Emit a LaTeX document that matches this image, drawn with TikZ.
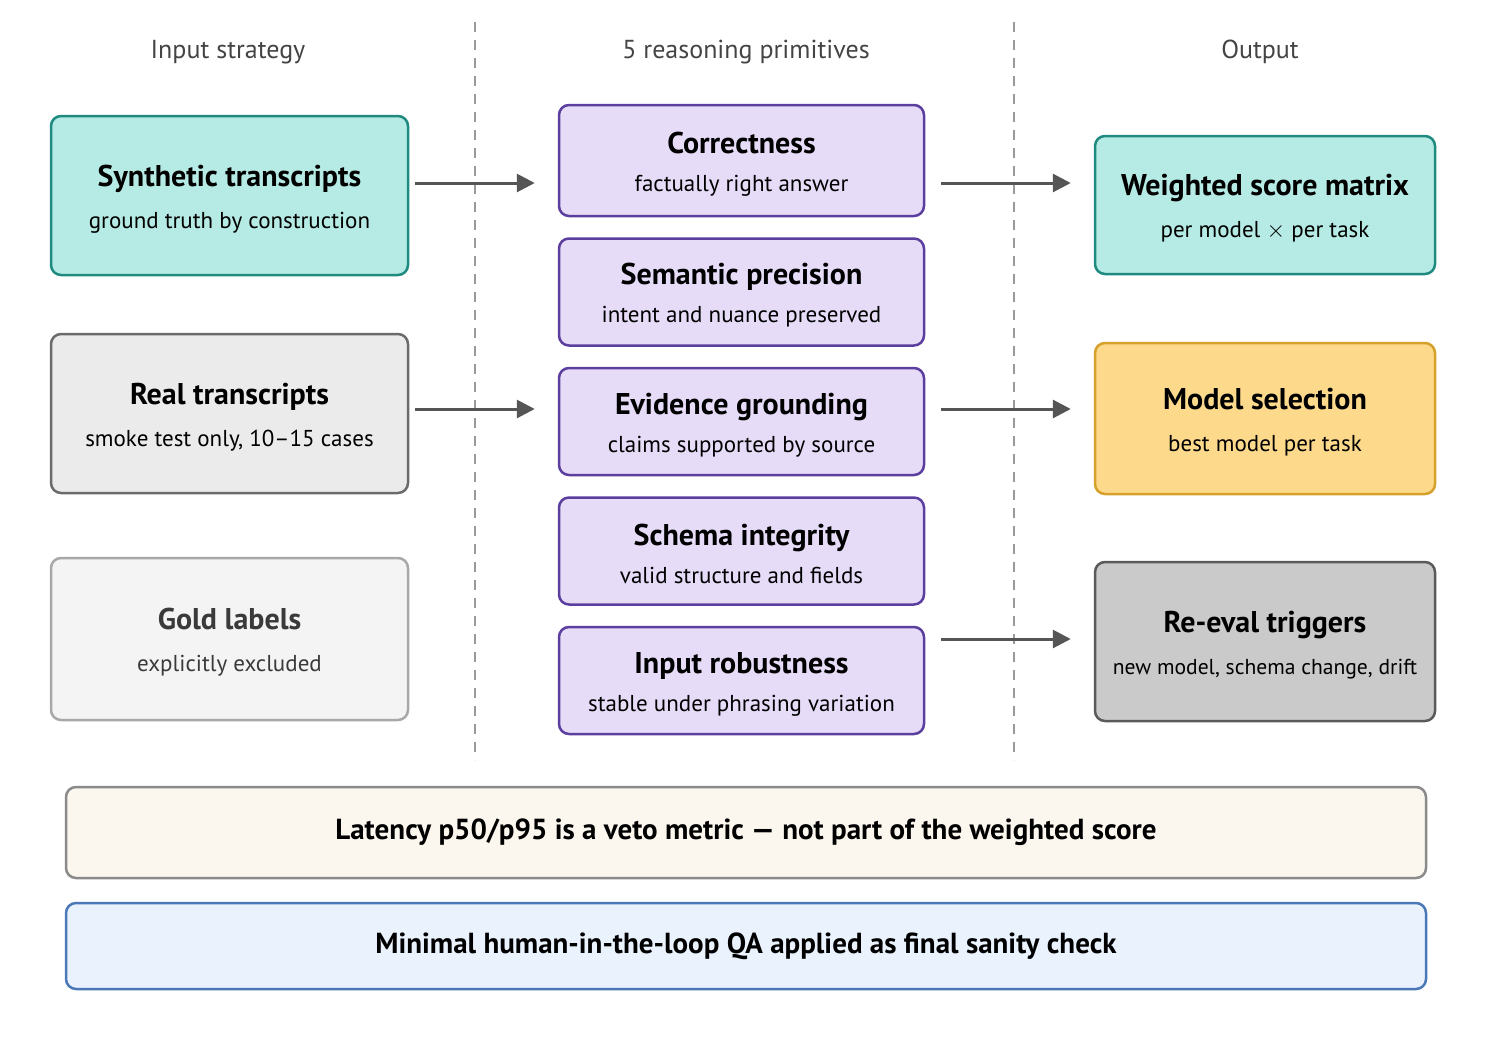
\documentclass[tikz,border=0pt]{standalone}
\usepackage{fontspec}
\setmainfont{PT Sans}
\usetikzlibrary{arrows.meta,positioning}
\tikzset{every picture/.style={line width=0.75pt}}

\definecolor{tealfill}{HTML}{B5EBE4}
\definecolor{tealline}{HTML}{1E8A80}
\definecolor{primfill}{HTML}{E6DCF8}
\definecolor{primline}{HTML}{5B3E9E}
\definecolor{realfill}{HTML}{EBEBEB}
\definecolor{realline}{HTML}{6B6B6B}
\definecolor{goldfill}{HTML}{F4F4F4}
\definecolor{goldline}{HTML}{A8A8A8}
\definecolor{goldtext}{HTML}{3A3A3A}
\definecolor{pickfill}{HTML}{FDD98C}
\definecolor{pickline}{HTML}{D6A12A}
\definecolor{evalfill}{HTML}{CACACA}
\definecolor{evalline}{HTML}{5A5A5A}
\definecolor{vetofill}{HTML}{FBF6EE}
\definecolor{vetoline}{HTML}{8A8A8A}
\definecolor{qafill}{HTML}{E9F2FD}
\definecolor{qaline}{HTML}{4B79B8}
\definecolor{headgray}{HTML}{444444}
\definecolor{divgray}{HTML}{9A9A9A}
\definecolor{arrowgray}{HTML}{555555}

\newcommand{\boxlabel}[3][7pt]{{\fontsize{15}{18}\selectfont\bfseries\rule{0pt}{14pt}#2}\\[#1]#3}

\tikzset{
  card/.style={rounded corners=5pt, line width=1.25pt, align=center, inner sep=2pt,
    font=\fontsize{11.5}{14}\selectfont},
  inbox/.style={card, minimum width=178.5pt, minimum height=79.5pt},
  primbox/.style={card, draw=primline, fill=primfill, minimum width=182.5pt, minimum height=53.5pt},
  outbox/.style={card, minimum width=170pt},
  barbox/.style={card, minimum width=680pt, font=\fontsize{14.5}{17}\selectfont\bfseries},
  header/.style={text=headgray, font=\fontsize{13}{15}\selectfont},
  divider/.style={dash pattern=on 5pt off 4pt, line width=0.9pt, draw=divgray},
  flow/.style={-{Triangle[length=9pt,width=9pt]}, line width=1.5pt, draw=arrowgray, fill=arrowgray},
}

\begin{document}
\begin{tikzpicture}[x=0.5pt, y=-0.5pt]
  \useasboundingbox (0,0) rectangle (1491,1055);

  % column headers and dividers
  \node[header] (hin)  at (228,52)  {Input strategy};
  \node[header] (hmid) at (746,52)  {5 reasoning primitives};
  \node[header] (hout) at (1260,52) {Output};
  \draw[divider] (475,22) -- (475,760);
  \draw[divider] (1014,22) -- (1014,760);

  % inputs
  \node[inbox, draw=tealline, fill=tealfill] (syn) at (229.5,195.5)
    {\boxlabel{Synthetic transcripts}{ground truth by construction}};
  \node[inbox, draw=realline, fill=realfill] (real) at (229.5,413.5)
    {\boxlabel{Real transcripts}{smoke test only, 10--15 cases}};
  \node[inbox, draw=goldline, fill=goldfill, text=goldtext, minimum height=81pt] (gold) at (229.5,639)
    {\boxlabel{Gold labels}{explicitly excluded}};

  % primitives
  \node[primbox, minimum height=55.5pt] (corr) at (741.5,160.5)
    {\boxlabel[5pt]{Correctness}{factually right answer}};
  \node[primbox, below=10pt of corr] (sem)
    {\boxlabel[5pt]{Semantic precision}{intent and nuance preserved}};
  \node[primbox, below=10pt of sem] (evid)
    {\boxlabel[5pt]{Evidence grounding}{claims supported by source}};
  \node[primbox, below=10pt of evid] (schema)
    {\boxlabel[5pt]{Schema integrity}{valid structure and fields}};
  \node[primbox, below=10pt of schema] (robust)
    {\boxlabel[5pt]{Input robustness}{stable under phrasing variation}};

  % outputs
  \node[outbox, draw=tealline, fill=tealfill, minimum height=69pt] (score) at (1265,205)
    {\boxlabel{Weighted score matrix}{per model $\times$ per task}};
  \node[outbox, draw=pickline, fill=pickfill, minimum height=75.5pt] (pick) at (1265,418.5)
    {\boxlabel{Model selection}{best model per task}};
  \node[outbox, draw=evalline, fill=evalfill, minimum height=79.5pt] (reeval) at (1265,641.5)
    {\boxlabel{Re-eval triggers}{\fontsize{10.8}{14}\selectfont new model, schema change, drift}};

  % bottom notes
  \node[barbox, draw=vetoline, fill=vetofill, minimum height=45.5pt] (veto) at (746,832.5)
    {Latency p50/p95 is a veto metric --- not part of the weighted score};
  \node[barbox, draw=qaline, fill=qafill, minimum height=43pt, below=11.25pt of veto] (qa)
    {Minimal human-in-the-loop QA applied as final sanity check};

  % flows
  \coordinate (r1) at (0,183);
  \coordinate (r2) at (0,409);
  \coordinate (r3) at (0,639);
  \draw[flow, shorten <=3pt, shorten >=11.5pt] (syn.east |- r1) -- (corr.west |- r1);
  \draw[flow, shorten <=3pt, shorten >=11.5pt] (real.east |- r2) -- (evid.west |- r2);
  \draw[flow, shorten <=8pt, shorten >=11.5pt] (corr.east |- r1) -- (score.west |- r1);
  \draw[flow, shorten <=8pt, shorten >=11.5pt] (evid.east |- r2) -- (pick.west |- r2);
  \draw[flow, shorten <=8pt, shorten >=11.5pt] (robust.east |- r3) -- (reeval.west |- r3);
\end{tikzpicture}
\end{document}
